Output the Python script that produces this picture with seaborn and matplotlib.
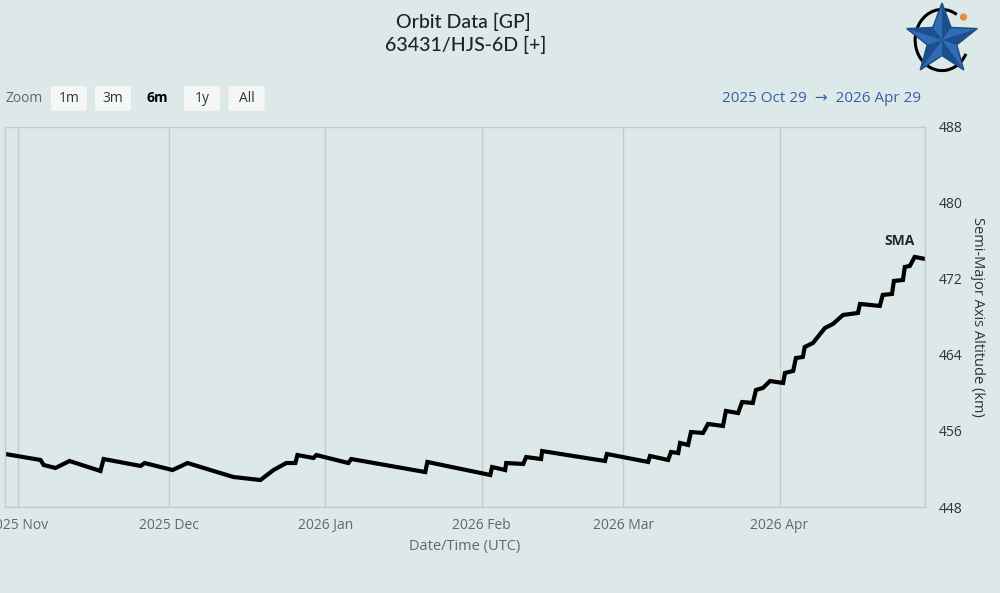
import numpy as np
import pandas as pd
import seaborn as sns
import matplotlib.pyplot as plt
import matplotlib.dates as mdates
from matplotlib.patches import Polygon, Arc, Circle, FancyBboxPatch

# semi-major axis altitude
epochs = [
    "2025-10-29 13:00", "2025-11-05 13:00", "2025-11-06 04:00", "2025-11-08 12:00",
    "2025-11-11 07:00", "2025-11-17 10:00", "2025-11-18 01:00", "2025-11-25 09:00",
    "2025-11-26 04:00", "2025-12-01 17:00", "2025-12-04 16:00", "2025-12-13 18:00",
    "2025-12-19 03:00", "2025-12-21 17:00", "2025-12-24 06:00", "2025-12-26 01:00",
    "2025-12-26 11:00", "2025-12-29 15:00", "2025-12-30 05:00", "2026-01-05 13:00",
    "2026-01-06 03:00", "2026-01-20 19:00", "2026-01-21 05:00", "2026-02-02 16:00",
    "2026-02-03 01:00", "2026-02-05 15:00", "2026-02-05 20:00", "2026-02-09 05:00",
    "2026-02-09 19:00", "2026-02-12 18:00", "2026-02-12 23:00", "2026-02-25 10:00",
    "2026-02-25 19:00", "2026-03-05 23:00", "2026-03-06 08:00", "2026-03-09 22:00",
    "2026-03-10 12:00", "2026-03-11 22:00", "2026-03-12 07:00", "2026-03-13 21:00",
    "2026-03-14 11:00", "2026-03-16 20:00", "2026-03-17 20:00", "2026-03-20 19:00",
    "2026-03-21 09:00", "2026-03-23 19:00", "2026-03-24 14:00", "2026-03-26 17:00",
    "2026-03-27 08:00", "2026-03-28 17:00", "2026-03-30 03:00", "2026-04-01 17:00",
    "2026-04-02 02:00", "2026-04-03 17:00", "2026-04-04 06:00", "2026-04-05 15:00",
    "2026-04-06 00:00", "2026-04-07 15:00", "2026-04-10 00:00", "2026-04-11 14:00",
    "2026-04-13 14:00", "2026-04-16 13:00", "2026-04-16 23:00", "2026-04-20 21:00",
    "2026-04-21 11:00", "2026-04-23 07:00", "2026-04-23 16:00", "2026-04-25 11:00",
    "2026-04-25 20:00", "2026-04-26 20:00", "2026-04-27 19:00", "2026-04-29 19:00",
]
sma_km = [
    453.58, 452.95, 452.42, 452.11, 452.84, 451.79, 453.05, 452.32,
    452.63, 451.89, 452.63, 451.16, 450.84, 451.89, 452.63, 452.63,
    453.47, 453.16, 453.47, 452.63, 453.05, 451.68, 452.74, 451.37,
    452.21, 451.89, 452.63, 452.53, 453.26, 453.05, 453.89, 452.84,
    453.58, 452.74, 453.37, 452.95, 453.79, 453.68, 454.74, 454.53,
    455.89, 455.79, 456.74, 456.53, 458.11, 457.89, 459.05, 458.95,
    460.32, 460.53, 461.26, 461.05, 462.11, 462.32, 463.68, 463.79,
    464.84, 465.26, 466.84, 467.26, 468.21, 468.42, 469.37, 469.16,
    470.32, 470.42, 471.79, 471.89, 473.26, 473.37, 474.32, 474.11,
]
y_ticks = [448, 456, 464, 472, 480, 488]
zoom_buttons = ["1m", "3m", "6m", "1y", "All"]

df = pd.DataFrame({"epoch": pd.to_datetime(epochs), "sma": sma_km})

bg = "#dde9e9"
sns.set_theme(style="white")
plt.rcParams["font.family"] = ["Open Sans", "DejaVu Sans"]

fig = plt.figure(figsize=(10, 5.93), dpi=100, facecolor=bg)
ax = fig.add_axes([0.005, 0.145, 0.92, 0.641])
ax.set_facecolor(bg)

sns.lineplot(data=df, x="epoch", y="sma", ax=ax, color="black", linewidth=3,
             solid_joinstyle="miter")

ax.set_xlim(pd.Timestamp("2025-10-29 12:00"), pd.Timestamp("2026-04-29 20:00"))
ax.set_ylim(448, 488)

ax.xaxis.set_major_locator(mdates.MonthLocator())
ax.xaxis.set_major_formatter(mdates.DateFormatter("%Y %b"))
ax.grid(axis="x", color="#c4c8c8", linewidth=1)
ax.grid(axis="y", visible=False)
ax.tick_params(axis="x", length=6, width=1, color="#c4c8c8", labelsize=10,
               labelcolor="#666666", pad=2)

ax.yaxis.tick_right()
ax.yaxis.set_label_position("right")
ax.set_yticks(y_ticks)
ax.tick_params(axis="y", length=0, labelsize=10, labelcolor="#333333", pad=10)

for s in ax.spines.values():
    s.set_color("#c4c8c8")
    s.set_linewidth(1)

ax.set_xlabel("Date/Time (UTC)", fontsize=10.5, color="#666666", labelpad=4)
ax.set_ylabel("Semi-Major Axis Altitude (km)", fontsize=10.5, color="#333333",
              rotation=270, labelpad=16)

ax.text(df["epoch"].iloc[-1] - pd.Timedelta(days=5), 475.3, "SMA",
        fontsize=10, fontweight="bold", ha="center", va="bottom")

# title
fig.text(0.463, 0.963, "Orbit Data [GP]", ha="center", va="center",
         fontsize=14, color="#222222", fontfamily="Lato", fontweight="medium")
fig.text(0.466, 0.925, "63431/HJS\u20116D [+]", ha="center", va="center",
         fontsize=14, color="#222222", fontfamily=["Lato", "DejaVu Sans"],
         fontweight="medium")

# range selector buttons
fig.text(0.006, 0.834, "Zoom", fontsize=10, color="#666666", va="center")
btn_x = [0.069, 0.113, 0.157, 0.202, 0.2465]
for lbl, bx in zip(zoom_buttons, btn_x):
    if lbl != "6m":
        fig.patches.append(FancyBboxPatch((bx - 0.018, 0.813), 0.036, 0.042,
                                          boxstyle="round,pad=0,rounding_size=0.003",
                                          transform=fig.transFigure,
                                          facecolor="#f5f7f7", edgecolor="none"))
    fig.text(bx, 0.834, lbl, fontsize=10, ha="center", va="center",
             color="black" if lbl == "6m" else "#333333",
             fontweight="bold" if lbl == "6m" else "normal")

fig.text(0.921, 0.834, "2025 Oct 29  \u2192  2026 Apr 29", fontsize=11,
         ha="right", va="center", color="#3a5ca8")

# logo
lax = fig.add_axes([0.902, 0.865, 0.08, 0.135])
lax.set_xlim(-1.08, 1.08)
lax.set_ylim(-1.08, 1.08)
lax.set_aspect("equal")
lax.axis("off")
ang = np.pi / 2 + np.arange(10) * np.pi / 5
rad = np.where(np.arange(10) % 2 == 0, 1.0, 0.42)
pts = np.column_stack([rad * np.cos(ang), rad * np.sin(ang)])
lax.add_patch(Arc((0, 0.0), 1.45, 1.65, theta1=60, theta2=330, color="black", lw=2.2))
lax.add_patch(Polygon(pts, closed=True, facecolor="#2e6db4", edgecolor="#1d4a80", lw=1))
for i in range(0, 10, 2):
    lax.add_patch(Polygon([(0, 0), pts[i], pts[i - 1]], closed=True,
                          facecolor="#1d4f8c", edgecolor="none"))
lax.add_patch(Circle((0.58, 0.62), 0.08, color="#e0923a"))

fig.savefig("out.png", dpi=100, facecolor=bg)
